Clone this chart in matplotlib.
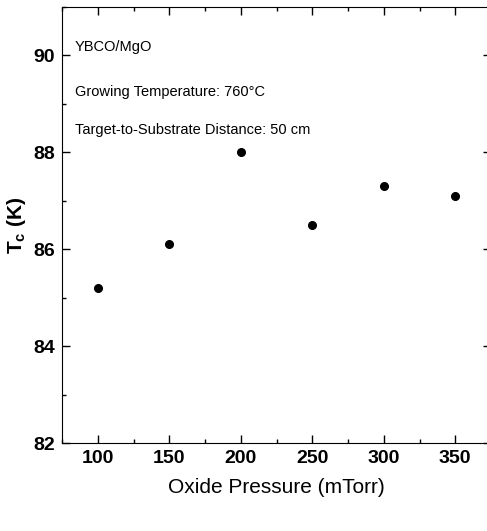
import matplotlib.pyplot as plt
from matplotlib.ticker import MultipleLocator

plt.rcParams['font.family'] = ['Liberation Sans', 'DejaVu Sans']
plt.rcParams['mathtext.default'] = 'regular'

pressure = [100, 150, 200, 250, 300, 350]
tc = [85.2, 86.1, 88.0, 86.5, 87.3, 87.1]
notes = ['YBCO/MgO', 'Growing Temperature: 760°C',
         'Target-to-Substrate Distance: 50 cm']
note_y = [0.908, 0.805, 0.718]

fig = plt.figure(figsize=(4.87, 5.31), dpi=100)
ax = fig.add_axes([62 / 487, 88 / 531, 429 / 487, 436 / 531])

ax.plot(pressure, tc, 'o', color='black', markersize=5.5)

ax.set_xlim(75, 375)
ax.set_ylim(82, 91)
ax.xaxis.set_major_locator(MultipleLocator(50))
ax.xaxis.set_minor_locator(MultipleLocator(25))
ax.yaxis.set_major_locator(MultipleLocator(2))
ax.yaxis.set_minor_locator(MultipleLocator(1))
ax.tick_params(which='both', direction='in', top=True, right=True, width=1)
ax.tick_params(which='major', length=6, labelsize=14, pad=5)
ax.tick_params(which='minor', length=3)
for lbl in ax.get_xticklabels() + ax.get_yticklabels():
    lbl.set_fontweight('bold')

ax.set_xlabel('Oxide Pressure (mTorr)', fontsize=15, labelpad=8)
ax.set_ylabel('T$_c$ (K)', fontsize=15, fontweight='bold', labelpad=4)

for t, y in zip(notes, note_y):
    ax.text(0.03, y, t, transform=ax.transAxes, fontsize=10.5, va='center')

fig.savefig('out.png', dpi=100)
